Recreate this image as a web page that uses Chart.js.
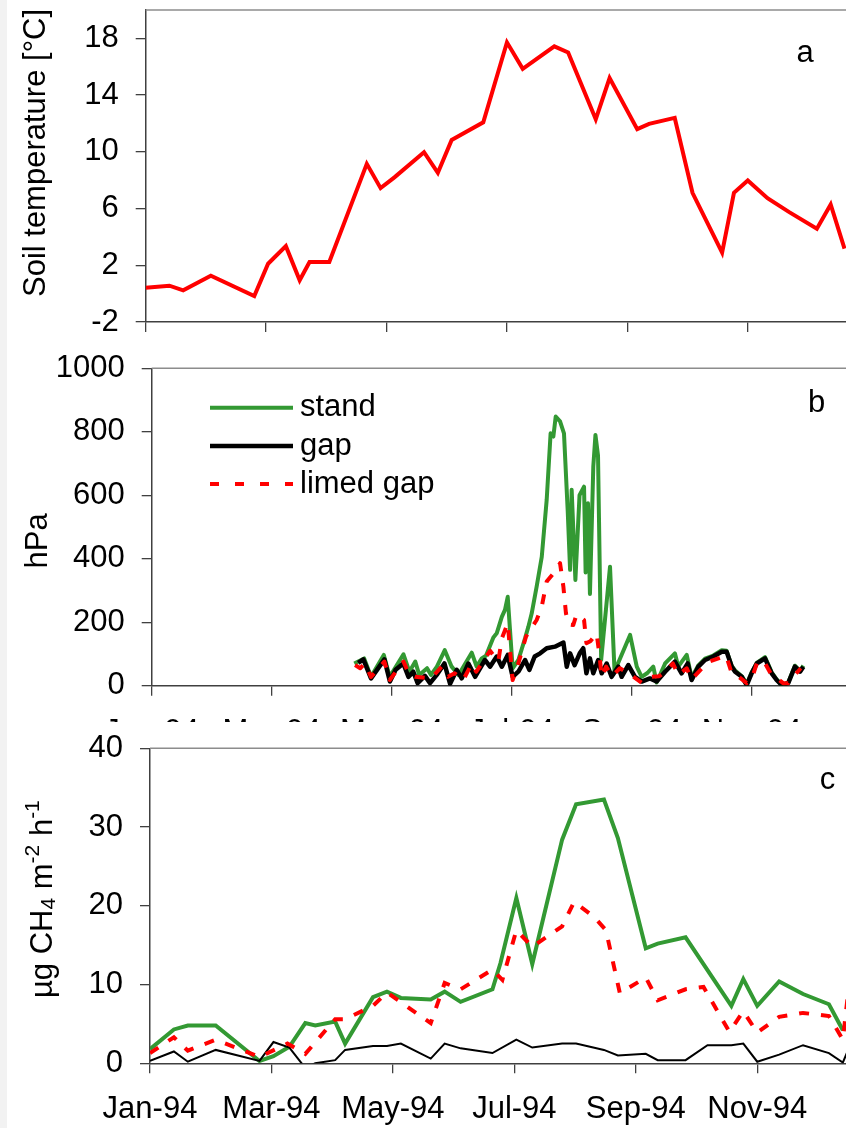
<!DOCTYPE html>
<html>
<head>
<meta charset="utf-8">
<script src="https://cdn.jsdelivr.net/npm/chart.js@4.4.1/dist/chart.umd.min.js"></script>
<style>
html,body{margin:0;padding:0;background:#fff;}
body{width:846px;height:1128px;overflow:hidden;position:relative;}
.panel{position:absolute;left:0;width:900px;overflow:hidden;}
canvas{display:block;}
#pa{top:0;height:340px;}
#pb{top:340px;height:400px;}
#pc{top:722px;height:406px;background:#fff;}
#strip{position:absolute;left:0;top:0;width:7px;height:1128px;background:#f2f2f2;z-index:5;}
</style>
</head>
<body>
<div id="pa" class="panel"><canvas id="ca" width="900" height="340"></canvas></div>
<div id="pb" class="panel"><canvas id="cb" width="900" height="400"></canvas></div>
<div id="pc" class="panel"><canvas id="cc" width="900" height="406"></canvas></div>
<div id="strip"></div>
<script>
// ---------- shared axis data ----------
const monthTicks  = [0, 61, 122, 183, 244, 305];            // day of 1994
const monthLabels = ['Jan-94', 'Mar-94', 'May-94', 'Jul-94', 'Sep-94', 'Nov-94'];
const tempTicks   = [-2, 2, 6, 10, 14, 18];
const pressTicks  = [0, 200, 400, 600, 800, 1000];
const fluxTicks   = [0, 10, 20, 30, 40];

// ---------- panel a : soil temperature ----------
const tempDays   = [0, 12, 19, 33, 55, 62, 71, 78, 83, 93, 112, 119, 126, 141, 148, 155, 171, 183, 191, 207, 214, 228, 235, 249, 255, 268, 277, 292, 298, 305, 315, 326, 340, 347, 354];
const tempValues = [0.42, 0.56, 0.23, 1.27, -0.17, 2.11, 3.35, 0.94, 2.23, 2.23, 9.15, 7.44, 8.2, 9.97, 8.52, 10.84, 12.08, 17.72, 15.85, 17.44, 17.0, 12.3, 15.2, 11.6, 11.97, 12.39, 7.11, 2.89, 7.11, 7.98, 6.73, 5.75, 4.58, 6.29, 3.17];

// ---------- panel b : soil water tension (hPa) ----------
const standDaysB = [103,108,111.5,118,121,128,131,134,136,140,142,145,149,152.5,156,159,162.7,165.2,167.8,170,173.7,175.4,178,179.6,181,183.5,186.4,189.8,191.5,193.2,195.7,198.3,200.8,202.8,204.2,205.4,207.6,209.6,211.5,212.7,213.5,215.4,217.5,219.8,220.6,221.8,222.8,224.5,225.6,226.9,228.5,233,235.3,243.2,246.6,249.1,252,255,256.7,261,266,267.7,272,274.5,278,281.3,285.5,289.8,292.3,294.9,296.6,300,302.5,305,307.6,311.8,315.2,317.7,320.3,323.6,327,329.6,331.3];
const standB     = [70,86,28,97,28,99,44,76,34,55,34,60,112,60,34,65,104,60,86,95,152,165,217,239,280,55,81,149,186,228,312,406,585,795,785,848,833,795,550,365,617,333,600,627,357,575,289,690,790,725,81,375,45,160,60,28,40,60,10,70,102,60,97,25,65,85,95,112,110,62,48,30,5,42,72,90,42,20,2,10,63,47,63];
const gapDaysB   = [105,107.6,111.5,118.3,121.1,124,127.9,130.5,133,135.2,138.9,141.5,144.9,148.8,151.7,155.1,157.6,161,164.4,169.4,172,175.4,178,181,183.5,186.5,189.8,192,194.7,197.5,200.8,205,209.3,211,212.7,215,217.6,219.4,221,222.8,224.5,227,228.8,231.3,233.8,237.2,238.9,242.3,245.7,249.1,253.3,256.7,261,266,269.4,272.5,274.5,277.9,281.3,285.5,289.8,292.3,294.9,296.6,300,302.5,305,307.6,311.8,315.2,317.7,320.3,323.6,327,329.6,331.3];
const gapB       = [72,83,23,83,13,50,70,28,44,8,31,8,34,70,6,50,23,70,28,81,60,92,60,97,28,45,81,50,92,102,118,123,136,60,102,65,102,118,39,86,39,81,39,70,28,60,28,65,28,13,23,13,44,76,39,70,18,60,81,92,107,107,60,44,28,2,39,70,86,39,18,2,8,60,44,60];
const limedDaysB = [103.4,106,108.4,111.5,118.3,121,128,131,134,139,142,147.4,150.6,154,158.4,162.7,165,172,176.2,178,181,183.5,186.4,190.3,195.7,198.3,200.8,205,207.6,209.3,210.6,212,214.3,216,219.8,221,223,226.2,227.6,228.8,231,234,238,242,245,249,254,258,261,265,267.7,272,274.5,279,283,289.8,292,294.9,298,302.5,305,307.6,311,315,318,321,323.6,327,330];
const limedB     = [65,55,70,28,76,18,76,34,28,25,23,60,28,39,18,70,44,110,76,149,197,18,70,155,207,249,328,360,386,312,228,193,191,225,207,134,140,165,97,28,60,30,55,40,28,10,28,30,44,70,34,55,20,50,75,90,95,39,30,8,20,70,80,35,23,8,8,34,55];

// ---------- panel c : CH4 uptake ----------
const fluxDays  = [0, 12, 19, 33, 55, 62, 70, 78, 83, 93, 98, 112, 119, 126, 141, 148, 156, 172, 176, 184, 192, 207, 214, 228, 235, 249, 255, 269, 280, 292, 298, 305, 316, 328, 341, 348, 352];
const standFlux = [1.8, 4.3, 4.8, 4.8, 0.3, 0.9, 2.1, 5.1, 4.8, 5.3, 2.5, 8.4, 9.1, 8.3, 8.1, 9.1, 7.8, 9.4, 12.7, 21.0, 12.6, 28.4, 32.9, 33.5, 28.6, 14.6, 15.2, 16.0, null, 7.3, 10.7, 7.3, 10.4, 8.8, 7.5, 4.2, null];
const gapFlux   = [0.3, 1.5, 0.2, 1.7, 0.3, 2.7, 2.0, -0.6, 0.0, 0.4, 1.7, 2.2, 2.2, 2.5, 0.6, 2.5, 1.9, 1.3, null, 3.0, 2.0, 2.5, 2.5, 1.7, 1.0, 1.2, 0.4, 0.4, 2.3, 2.3, 2.5, 0.2, 1.1, 2.3, 1.3, 0.1, 2.5];
const limedDays = [0, 12, 19, 33, 55, 69, 78, 93, 98, 112, 119, 141, 148, 156, 172, 177, 184, 192, 207, 213, 223, 229, 236, 249, 255, 269, 278, 291, 298, 305, 316, 328, 341, 348, 352];
const limedFlux = [1.3, 3.3, 1.6, 3.0, 0.8, 2.5, 1.2, 5.6, 5.6, 7.3, 9.0, 5.1, 10.2, 9.4, 11.9, 10.6, 16.9, 14.8, 17.4, 20.5, 18.6, 16.9, 8.9, 10.9, 8.0, 9.4, 9.7, 4.0, 6.6, 3.9, 5.9, 6.4, 6.0, 3.0, 12];

// ---------- helpers ----------
const FONT = "'Liberation Sans', Arial, Helvetica, sans-serif";
const AXIS = '#404040';
const GREEN = '#339933', RED = '#ff0000', BLACK = '#000000';
Chart.defaults.font.family = FONT;
Chart.defaults.color = '#000';

function pts(days, vals) {
  const out = [];
  days.forEach((d, i) => { if (vals[i] !== null && vals[i] !== undefined) out.push({x: d, y: vals[i]}); });
  return out;
}

function drawText(ctx, t) {
  ctx.save();
  ctx.translate(t.x, t.y);
  if (t.rotate) ctx.rotate(-Math.PI / 2);
  ctx.fillStyle = '#000';
  ctx.textBaseline = t.baseline || 'alphabetic';
  ctx.textAlign = 'left';
  let total = 0;
  t.parts.forEach(p => { ctx.font = p.size + 'px ' + FONT; p.w = ctx.measureText(p.t).width; total += p.w; });
  let cx = t.align === 'center' ? -total / 2 : 0;
  t.parts.forEach(p => { ctx.font = p.size + 'px ' + FONT; ctx.fillText(p.t, cx, p.dy || 0); cx += p.w; });
  ctx.restore();
}

const decorPlugin = {
  id: 'panelDecor',
  afterDraw(chart, args, opts) {
    const ctx = chart.ctx, a = chart.chartArea;
    ctx.save();
    ctx.strokeStyle = '#8c8c8c';
    ctx.lineWidth = 1.6;
    ctx.beginPath(); ctx.moveTo(a.left, a.top); ctx.lineTo(a.right, a.top); ctx.stroke();
    (opts.legend || []).forEach(l => {
      ctx.save();
      ctx.strokeStyle = l.color; ctx.lineWidth = l.width; ctx.lineCap = 'butt';
      ctx.setLineDash(l.dash || []);
      ctx.beginPath(); ctx.moveTo(l.x1, l.y); ctx.lineTo(l.x2, l.y); ctx.stroke();
      ctx.restore();
      drawText(ctx, {x: l.x2 + 7, y: l.y, baseline: 'middle', parts: [{t: l.text, size: 31}]});
    });
    (opts.texts || []).forEach(t => drawText(ctx, t));
    ctx.restore();
  }
};

function makePanel(id, g, datasets, decor) {
  const canvas = document.getElementById(id);
  const W = canvas.width, H = canvas.height;
  const right = g.left + g.dayMax * g.pxPerDay;
  return new Chart(canvas, {
    type: 'line',
    data: { datasets },
    options: {
      responsive: false, animation: false, devicePixelRatio: 1,
      layout: { padding: { top: g.top, right: W - right, left: 0, bottom: 0 } },
      plugins: { legend: { display: false }, tooltip: { enabled: false }, panelDecor: decor },
      elements: { point: { radius: 0 }, line: { tension: 0 } },
      scales: {
        x: {
          type: 'linear', min: 0, max: g.dayMax,
          afterBuildTicks: s => { s.ticks = monthTicks.map(v => ({ value: v })); },
          afterFit: s => { s.height = H - g.bottom; s.paddingLeft = 0; s.paddingRight = 0; },
          grid: { drawOnChartArea: false, drawTicks: true, tickLength: 10, color: AXIS, lineWidth: 1.3 },
          border: { display: true, color: AXIS, width: 1.5 },
          ticks: {
            display: g.xLabels, autoSkip: false, maxRotation: 0, minRotation: 0, padding: 18,
            color: '#000', font: { size: 31 },
            callback: v => { const i = monthTicks.indexOf(v); return i >= 0 ? monthLabels[i] : ''; }
          }
        },
        y: {
          type: 'linear', min: g.yMin, max: g.yMax,
          afterBuildTicks: s => { s.ticks = g.yTicks.map(v => ({ value: v })); },
          afterFit: s => { s.width = g.left; s.paddingTop = 0; s.paddingBottom = 0; },
          grid: { drawOnChartArea: false, drawTicks: true, tickLength: 10, color: AXIS, lineWidth: 1.3 },
          border: { display: true, color: AXIS, width: 1.5 },
          ticks: { padding: 17, color: '#000', font: { size: 31 }, callback: v => String(v) }
        }
      }
    },
    plugins: [decorPlugin]
  });
}

// ---------- panel a ----------
makePanel('ca',
  { left: 145.7, top: 10, bottom: 322, pxPerDay: 1.974, dayMax: 366, yMin: -2, yMax: 20, yTicks: tempTicks, xLabels: false },
  [{ data: pts(tempDays, tempValues), borderColor: RED, borderWidth: 4, borderJoinStyle: 'miter' }],
  { texts: [
      { x: 44.5, y: 153, rotate: true, align: 'center', parts: [{ t: 'Soil temperature [°C]', size: 31 }] },
      { x: 805, y: 61.7, align: 'center', parts: [{ t: 'a', size: 31 }] }
  ] });

// ---------- panel b ----------
makePanel('cb',
  { left: 151.7, top: 28.3, bottom: 345.7, pxPerDay: 1.967, dayMax: 366, yMin: 0, yMax: 1000, yTicks: pressTicks, xLabels: true },
  [
    { label: 'limed gap', data: pts(limedDaysB, limedB), borderColor: RED, borderWidth: 4, borderDash: [10, 12], borderJoinStyle: 'round', order: 0 },
    { label: 'gap', data: pts(gapDaysB, gapB), borderColor: BLACK, borderWidth: 4.5, borderJoinStyle: 'round', order: 1 },
    { label: 'stand', data: pts(standDaysB, standB), borderColor: GREEN, borderWidth: 4, borderJoinStyle: 'round', order: 2 }
  ],
  { texts: [
      { x: 46.7, y: 200.8, rotate: true, align: 'center', parts: [{ t: 'hPa', size: 31 }] },
      { x: 816.7, y: 71.7, align: 'center', parts: [{ t: 'b', size: 31 }] }
    ],
    legend: [
      { text: 'stand', color: GREEN, width: 4, x1: 210, x2: 293, y: 67.7 },
      { text: 'gap', color: BLACK, width: 4.5, x1: 210, x2: 293, y: 106 },
      { text: 'limed gap', color: RED, width: 4, dash: [9, 16], x1: 210, x2: 293, y: 144 }
    ] });

// ---------- panel c ----------
makePanel('cc',
  { left: 150, top: 26.3, bottom: 341.3, pxPerDay: 1.991, dayMax: 366, yMin: 0, yMax: 40, yTicks: fluxTicks, xLabels: true },
  [
    { label: 'limed gap', data: pts(limedDays, limedFlux), borderColor: RED, borderWidth: 4, borderDash: [10, 12], borderJoinStyle: 'miter', order: 0 },
    { label: 'gap', data: pts(fluxDays, gapFlux), borderColor: BLACK, borderWidth: 2, borderJoinStyle: 'miter', order: 1 },
    { label: 'stand', data: pts(fluxDays, standFlux), borderColor: GREEN, borderWidth: 4, borderJoinStyle: 'miter', order: 2 }
  ],
  { texts: [
      { x: 51.5, y: 276, rotate: true, align: 'left', parts: [
        { t: 'µg CH', size: 31 }, { t: '4', size: 21, dy: 3 }, { t: ' m', size: 31 },
        { t: '-2', size: 21, dy: -13 }, { t: ' h', size: 31 }, { t: '-1', size: 21, dy: -13 } ] },
      { x: 827.5, y: 67.3, align: 'center', parts: [{ t: 'c', size: 31 }] }
  ] });
</script>
</body>
</html>
